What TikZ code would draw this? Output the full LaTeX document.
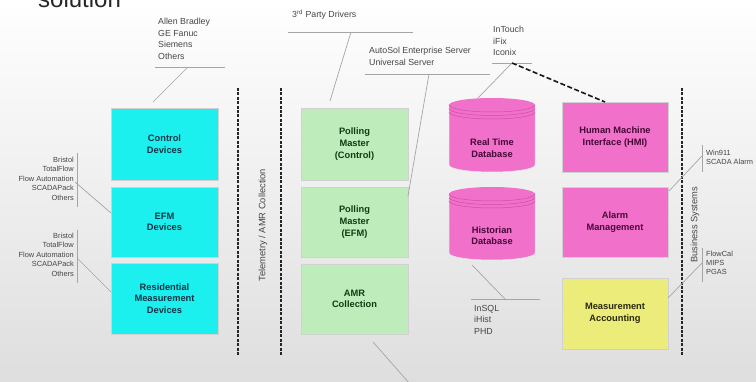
\documentclass[tikz,border=0pt]{standalone}
\usepackage{fontspec}
\setmainfont{Liberation Sans}
\usetikzlibrary{calc}
\definecolor{cyanbox}{RGB}{28,240,238}
\definecolor{greenbox}{RGB}{190,236,186}
\definecolor{pinkbox}{RGB}{240,112,202}
\definecolor{yellowbox}{RGB}{236,236,122}
\definecolor{cyantext}{RGB}{12,52,70}
\definecolor{greentext}{RGB}{18,60,18}
\definecolor{pinktext}{RGB}{70,8,55}
\definecolor{yellowtext}{RGB}{40,40,12}
\definecolor{annot}{RGB}{70,70,70}
\definecolor{leader}{RGB}{165,165,165}
\definecolor{bgbottom}{RGB}{222,222,222}
\definecolor{bgmid}{RGB}{242,242,242}
\definecolor{pinkline}{RGB}{205,80,165}
\tikzset{
  box/.style={rectangle, inner sep=0pt, minimum width=107pt, draw=black!18, line width=0.7pt,
    font=\bfseries\fontsize{9.3}{11.6}\selectfont, align=center},
  cyanb/.style={box, fill=cyanbox, text=cyantext},
  greenb/.style={box, fill=greenbox, text=greentext},
  pinkb/.style={box, fill=pinkbox, text=pinktext, minimum width=106pt},
  yellowb/.style={box, fill=yellowbox, text=yellowtext, minimum width=106pt},
  cyltext/.style={font=\bfseries\fontsize{9.3}{11.6}\selectfont, align=center, text=pinktext, inner sep=0pt},
  note/.style={font=\fontsize{8.8}{11.6}\selectfont, text=annot, inner sep=0pt, align=left, anchor=north west},
  smallnote/.style={font=\fontsize{7.4}{9.4}\selectfont, text=annot, inner sep=0pt},
  lead/.style={draw=leader, line width=0.7pt},
  sepline/.style={draw=black!85, line width=1.8pt, dash pattern=on 3pt off 1.4pt},
  hmidash/.style={draw=black!90, line width=1.6pt, dash pattern=on 5pt off 2.5pt},
  sidelabel/.style={font=\fontsize{9.3}{11}\selectfont, text=annot, rotate=90, inner sep=0pt},
}
\begin{document}
\begin{tikzpicture}[x=1pt, y=-1pt]
\useasboundingbox (0,0) rectangle (756,382);
\shade[top color=white, middle color=bgmid, bottom color=bgbottom] (0,0) rectangle (756,382);

% title (cut off at top)
\node[anchor=base west, inner sep=0pt, font=\fontsize{24}{28}\selectfont, text=black!85] (title) at (38,8) {solution};

% separators
\coordinate (s1t) at (238,88); \coordinate (s1b) at (238,356);
\coordinate (s2t) at (281,88); \coordinate (s2b) at (281,356);
\coordinate (s3t) at (682,88); \coordinate (s3b) at (682,356);
\draw[sepline] (s1t) -- (s1b);
\draw[sepline] (s2t) -- (s2b);
\draw[sepline] (s3t) -- (s3b);
\node[sidelabel] (telem) at (263,225) {Telemetry / AMR Collection};
\node[sidelabel] (bus) at (695,225) {Business Systems};

% left column
\node[cyanb, minimum height=72pt] (ctrl) at (164.5,144) {Control\\Devices};
\node[cyanb, minimum height=70pt] (efm) at (164.5,222) {EFM\\Devices};
\node[cyanb, minimum height=71pt] (res) at (164.5,298.5) {Residential\\Measurement\\Devices};

% middle column
\node[greenb, minimum height=72pt] (pmc) at (354.5,144) {Polling\\Master\\(Control)};
\node[greenb, minimum height=70pt] (pme) at (354.5,222) {Polling\\Master\\(EFM)};
\node[greenb, minimum height=70pt] (amr) at (354.5,299) {AMR\\Collection};

% right column
\node[pinkb, minimum height=70pt] (hmi) at (615,137) {Human Machine\\Interface (HMI)};
\node[pinkb, minimum height=70pt] (alarm) at (615,222) {Alarm\\Management};
\node[yellowb, minimum height=71pt] (meas) at (615,313.5) {Measurement\\Accounting};

% cylinders
\foreach \top/\bot in {98/172, 187/260}{
  \fill[pinkbox] (449,\top+7) rectangle (535,\bot-7);
  \fill[pinkbox] (492,\bot-7) ellipse [x radius=43, y radius=7];
  \draw[draw=black!10, line width=0.5pt] (449,\top+7) -- (449,\bot-7) arc[start angle=180, end angle=0, x radius=43, y radius=7] -- (535,\top+7);
  \fill[pinkbox] (492,\top+7) ellipse [x radius=43, y radius=7];
  \draw[pinkline, line width=0.5pt] (449,\top+7) arc[start angle=180, end angle=0, x radius=43, y radius=7];
  \draw[pinkline, line width=0.5pt] (449,\top+10.5) arc[start angle=180, end angle=0, x radius=43, y radius=7];
  \draw[pinkline, line width=0.5pt] (449,\top+14) arc[start angle=180, end angle=0, x radius=43, y radius=7];
}
\node[cyltext] (rtdb) at (492,148) {Real Time\\Database};
\node[cyltext] (hist) at (492,235.5) {Historian\\Database};
\coordinate (rtdbtop) at (478,98);
\coordinate (histbot) at (472,265);

% annotations: top
\node[note] (plc) at (158,18) {Allen Bradley\\GE Fanuc\\Siemens\\Others};
\coordinate (plcL) at (155,67); \coordinate (plcR) at (225,67); \coordinate (plcM) at (188,67);
\coordinate (plcE) at (153,102);
\draw[lead] (plcL) -- (plcR);
\draw[lead] (plcM) -- (plcE);

\node[note] (third) at (292,9.5) {3\textsuperscript{rd} Party Drivers};
\coordinate (thL) at (288,32); \coordinate (thR) at (413,32); \coordinate (thM) at (351,32);
\coordinate (thE) at (330,101);
\draw[lead] (thL) -- (thR);
\draw[lead] (thM) -- (thE);

\node[note] (auto) at (369,47) {AutoSol Enterprise Server\\Universal Server};
\coordinate (auL) at (365,74); \coordinate (auR) at (490,74); \coordinate (auM) at (429,74);
\coordinate (auE) at (408,196);
\draw[lead] (auL) -- (auR);
\draw[lead] (auM) -- (auE);

\node[note] (hmisw) at (493,26) {InTouch\\iFix\\Iconix};
\coordinate (inL) at (492,63); \coordinate (inR) at (532,63); \coordinate (inM) at (512,63);
\coordinate (hmitop) at (605,102);
\draw[lead] (inL) -- (inR);
\draw[lead] (inM) -- (rtdbtop);
\draw[hmidash] (inM) -- (hmitop);

% left annotations
\node[smallnote, anchor=north east, align=right] (rtu1) at (74,157) {Bristol\\TotalFlow\\Flow Automation\\SCADAPack\\Others};
\coordinate (v1t) at (77,153); \coordinate (v1b) at (77,207);
\coordinate (l1s) at (75,182); \coordinate (l1e) at (111,213);
\draw[lead] (v1t) -- (v1b);
\draw[lead] (l1s) -- (l1e);

\node[smallnote, anchor=north east, align=right] (rtu2) at (74,233) {Bristol\\TotalFlow\\Flow Automation\\SCADAPack\\Others};
\coordinate (v2t) at (77,230); \coordinate (v2b) at (77,283);
\coordinate (l2s) at (77,258); \coordinate (l2e) at (111,292);
\draw[lead] (v2t) -- (v2b);
\draw[lead] (l2s) -- (l2e);

% right annotations
\node[smallnote, anchor=north west, align=left] (alsw) at (706,149.5) {Win911\\SCADA Alarm};
\coordinate (v3t) at (702,145); \coordinate (v3b) at (702,172);
\coordinate (l3s) at (702,156); \coordinate (l3e) at (669,191);
\draw[lead] (v3t) -- (v3b);
\draw[lead] (l3s) -- (l3e);

\node[smallnote, anchor=north west, align=left] (mesw) at (706,250.5) {FlowCal\\MIPS\\PGAS};
\coordinate (v4t) at (702,248); \coordinate (v4b) at (702,282);
\coordinate (l4s) at (702,263); \coordinate (l4e) at (668,298);
\draw[lead] (v4t) -- (v4b);
\draw[lead] (l4s) -- (l4e);

% historian annotation
\node[note] (histsw) at (474,305) {InSQL\\iHist\\PHD};
\coordinate (hiL) at (471,299); \coordinate (hiR) at (540,299); \coordinate (hiM) at (505,299);
\draw[lead] (hiL) -- (hiR);
\draw[lead] (histbot) -- (hiM);

% AMR leader off the bottom
\coordinate (amrS) at (373,342); \coordinate (amrE) at (410,384);
\draw[lead] (amrS) -- (amrE);
\end{tikzpicture}
\end{document}
